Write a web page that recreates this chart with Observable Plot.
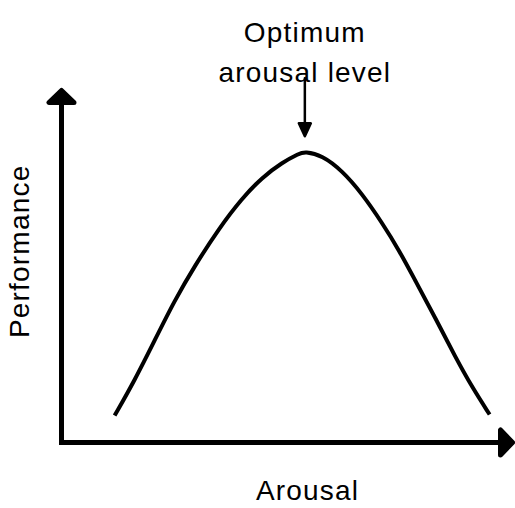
<!DOCTYPE html>
<html>
<head>
<meta charset="utf-8">
<script src="https://cdn.jsdelivr.net/npm/d3@7"></script>
<script src="https://cdn.jsdelivr.net/npm/@observablehq/plot@0.6"></script>
<style>
  html, body { margin: 0; padding: 0; background: #fff; }
</style>
</head>
<body>
<div id="chart"></div>
<script>
// Inverted-U curve (arousal vs performance), arbitrary 0–100 units
const arousal = [11.7, 16.1, 20.5, 24.9, 29.4, 34.7, 39.7, 44.2, 48.6, 52.3, 53.6, 57.4, 61.8, 66.2, 70.6, 74.4, 77.9, 82.3, 86.8, 90.5, 94.3];
const performance = [7.6, 17.5, 28.8, 40.1, 50.0, 60.5, 68.9, 74.9, 79.1, 81.6, 82.2, 81.1, 76.8, 70.3, 62.1, 54.2, 45.8, 35.3, 24.0, 15.5, 7.9];

const annotationLines = ["Optimum", "arousal level"];
const xLabel = "Arousal";
const yLabel = "Performance";

const curve = arousal.map((a, i) => ({arousal: a, performance: performance[i]}));
const peak = curve.reduce((m, d) => d.performance > m.performance ? d : m);

const axisArrow = {
  draw(ctx, l) {
    ctx.moveTo(0, 0);
    ctx.lineTo(0, -l + 10);
    ctx.moveTo(0, -l);
    ctx.lineTo(-12.5, -l + 12);
    ctx.lineTo(12.5, -l + 12);
    ctx.closePath();
  }
};
const smallArrow = {
  draw(ctx, l) {
    ctx.moveTo(0, 0);
    ctx.lineTo(0, -l + 8);
    ctx.moveTo(0, -l);
    ctx.lineTo(-6, -l + 13);
    ctx.lineTo(6, -l + 13);
    ctx.closePath();
  }
};

const chart = Plot.plot({
  width: 515,
  height: 508,
  marginLeft: 61,
  marginRight: 0,
  marginTop: 88,
  marginBottom: 66,
  x: {domain: [0, 100], axis: null},
  y: {domain: [0, 100], axis: null},
  style: "font-family: 'Liberation Sans', Arial, Helvetica, sans-serif; letter-spacing: 1.2px; background: #fff; color: #000;",
  marks: [
    // axes with filled arrowheads
    Plot.vector([0], {x: 0, y: 0, rotate: 0, length: 352, anchor: "start", shape: axisArrow,
      stroke: "black", fill: "black", strokeWidth: 5, strokeLinecap: "square", strokeLinejoin: "round"}),
    Plot.vector([0], {x: 0, y: 0, rotate: 90, length: 451, anchor: "start", shape: axisArrow,
      stroke: "black", fill: "black", strokeWidth: 5, strokeLinecap: "square", strokeLinejoin: "round"}),
    // curve
    Plot.line(curve, {x: "arousal", y: "performance", curve: "basis",
      stroke: "black", strokeWidth: 4, strokeLinecap: "butt"}),
    // annotation arrow pointing to the peak
    Plot.vector([peak], {x: "arousal", y: d => d.performance + 4.3, rotate: 180, length: 58,
      anchor: "end", shape: smallArrow, stroke: "black", fill: "black", strokeWidth: 2.5,
      strokeLinejoin: "round"}),
    // texts
    Plot.text([annotationLines.join("\n")], {x: peak.arousal, y: 111.2, text: d => d,
      fontSize: 28, lineHeight: 1.45, fill: "black"}),
    Plot.text([xLabel], {x: 54.2, y: -13.7, text: d => d, fontSize: 28, fill: "black"}),
    Plot.text([yLabel], {x: -9.2, y: 54, text: d => d, rotate: -90, fontSize: 28, fill: "black"})
  ]
});

document.getElementById("chart").appendChild(chart);
</script>
</body>
</html>
